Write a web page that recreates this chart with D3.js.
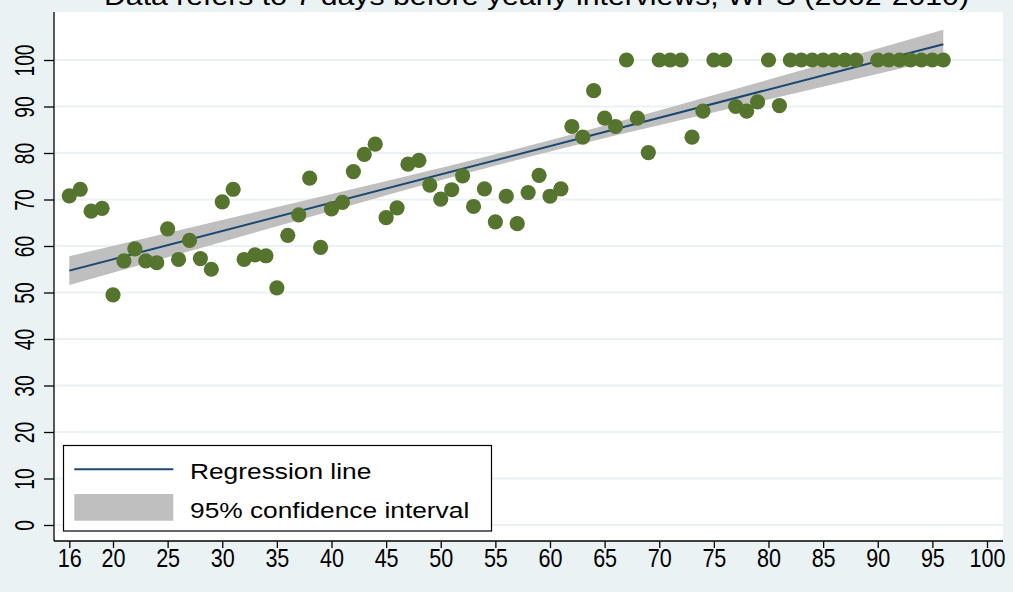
<!DOCTYPE html>
<html>
<head>
<meta charset="utf-8">
<script src="https://cdn.jsdelivr.net/npm/d3@7"></script>
<style>
  html, body { margin: 0; padding: 0; background: #eaf2f3; }
  svg { display: block; }
</style>
</head>
<body>
<svg id="chart" width="1013" height="592"></svg>
<script>
// Share (%) by age, one point per age
const ages = [16,17,18,19,20,21,22,23,24,25,26,27,28,29,30,31,32,33,34,35,36,37,38,39,40,
  41,42,43,44,45,46,47,48,49,50,51,52,53,54,55,56,57,58,59,60,61,62,63,64,65,66,67,68,69,70,
  71,72,73,74,75,76,77,78,79,80,81,82,83,84,85,86,87,88,90,91,92,93,94,95,96];
const shares = [70.8,72.2,67.5,68.1,49.5,56.8,59.4,56.8,56.4,63.7,57.1,61.2,57.3,55.0,69.5,72.2,
  57.1,58.1,57.9,51.0,62.3,66.7,74.6,59.7,68.0,69.4,76.0,79.7,81.9,66.1,68.2,77.6,78.4,73.1,70.1,
  72.1,75.1,68.5,72.3,65.2,70.7,64.8,71.5,75.2,70.7,72.3,85.7,83.4,93.4,87.5,85.7,100,87.5,80.1,100,
  100,100,83.4,89.0,100,100,90.0,89.0,91.0,100,90.2,100,100,100,100,100,100,100,100,100,100,100,100,100,100];

// Fitted regression line and its 95% confidence band
const fitAges = [16, 96];
const fitValues = [54.7, 103.4];
const bandAges = [16, 36, 56, 76, 96];
const bandUpper = [57.8, 68.9, 80.3, 93.1, 106.5];
const bandLower = [51.6, 64.9, 77.9, 89.3, 100.3];

const xTicks = [16, 20, 25, 30, 35, 40, 45, 50, 55, 60, 65, 70, 75, 80, 85, 90, 95, 100];
const yTicks = [0, 10, 20, 30, 40, 50, 60, 70, 80, 90, 100];

const titleText = "Data refers to 7 days before yearly interviews, WPS (2002-2010)";
const legendLabels = ["Regression line", "95% confidence interval"];

const colors = { bg: "#eaf2f3", grid: "#eaf2f3", dot: "#55752f", line: "#1a476f", band: "#bfbfbf" };
const font = "'Liberation Sans', Arial, sans-serif";

const svg = d3.select("#chart");
const plot = { left: 54, right: 1003, top: 12, bottom: 541 };

const x = d3.scaleLinear().domain([16, 100]).range([69.3, 987]);
const y = d3.scaleLinear().domain([0, 100]).range([525, 60]);

// background
svg.append("rect").attr("width", 1013).attr("height", 592).attr("fill", colors.bg);

// title (its upper half runs past the top edge)
svg.append("text")
  .attr("x", 104).attr("y", 5)
  .attr("font-family", font).attr("font-size", 26)
  .attr("textLength", 865).attr("lengthAdjust", "spacingAndGlyphs")
  .attr("fill", "#000")
  .text(titleText);

// plot region
svg.append("rect")
  .attr("x", plot.left).attr("y", plot.top)
  .attr("width", plot.right - plot.left).attr("height", plot.bottom - plot.top)
  .attr("fill", "#fff");

// horizontal grid
svg.append("g").selectAll("line").data(yTicks).join("line")
  .attr("x1", plot.left + 1).attr("x2", plot.right)
  .attr("y1", d => y(d)).attr("y2", d => y(d))
  .attr("stroke", colors.grid).attr("stroke-width", 2);

// confidence band
const bandRows = bandAges.map((a, i) => ({ a, lo: bandLower[i], hi: bandUpper[i] }));
svg.append("path")
  .datum(bandRows)
  .attr("d", d3.area().x(d => x(d.a)).y0(d => y(d.lo)).y1(d => y(d.hi)).curve(d3.curveNatural))
  .attr("fill", colors.band);

// regression line
const fitRows = fitAges.map((a, i) => ({ a, v: fitValues[i] }));
svg.append("path")
  .datum(fitRows)
  .attr("d", d3.line().x(d => x(d.a)).y(d => y(d.v)))
  .attr("fill", "none").attr("stroke", colors.line).attr("stroke-width", 2);

// points
svg.append("g").selectAll("circle").data(ages).join("circle")
  .attr("cx", d => x(d)).attr("cy", (d, i) => y(shares[i]))
  .attr("r", 7.6).attr("fill", colors.dot);

// y axis
const yAxis = svg.append("g").attr("transform", `translate(${plot.left},0)`)
  .call(d3.axisLeft(y).tickValues(yTicks).tickSize(10).tickFormat(d3.format("d")));
yAxis.select(".domain").attr("d", `M0,${plot.top}V${plot.bottom}`).attr("stroke", "#000").attr("stroke-width", 1.3);
yAxis.selectAll(".tick line").attr("stroke", "#000").attr("stroke-width", 1.3);
yAxis.selectAll(".tick text")
  .attr("x", 0).attr("y", 0).attr("dy", 0)
  .attr("text-anchor", "middle")
  .attr("font-family", font).attr("font-size", 23.5).attr("fill", "#000")
  .attr("transform", "translate(-20.5,0) rotate(-90) scale(0.82,1.18)");

// x axis
const xAxis = svg.append("g").attr("transform", `translate(0,${plot.bottom})`)
  .call(d3.axisBottom(x).tickValues(xTicks).tickSize(7).tickFormat(d3.format("d")));
xAxis.select(".domain").attr("d", `M${plot.left},0H${plot.right}`).attr("stroke", "#000").attr("stroke-width", 1.3);
xAxis.selectAll(".tick line").attr("stroke", "#000").attr("stroke-width", 1.3);
xAxis.selectAll(".tick text")
  .attr("x", 0).attr("y", 0).attr("dy", 0)
  .attr("text-anchor", "middle")
  .attr("font-family", font).attr("font-size", 26).attr("fill", "#000")
  .attr("transform", "translate(0,25.5) scale(0.83,1)");

// legend
const legend = svg.append("g");
legend.append("rect")
  .attr("x", 63.5).attr("y", 445.5).attr("width", 428).attr("height", 85.5)
  .attr("fill", "#fff").attr("stroke", "#000").attr("stroke-width", 1.2);
legend.append("line")
  .attr("x1", 74.3).attr("x2", 173.3).attr("y1", 469.3).attr("y2", 469.3)
  .attr("stroke", colors.line).attr("stroke-width", 2);
legend.append("rect")
  .attr("x", 74.3).attr("y", 494).attr("width", 99).attr("height", 26.7)
  .attr("fill", colors.band);
legend.selectAll("text.lab").data(legendLabels).join("text")
  .attr("class", "lab")
  .attr("transform", (d, i) => `translate(190,${i === 0 ? 479.3 : 517.7}) scale(1.18,1)`)
  .attr("font-family", font).attr("font-size", 22.3).attr("fill", "#000")
  .text(d => d);
</script>
</body>
</html>
